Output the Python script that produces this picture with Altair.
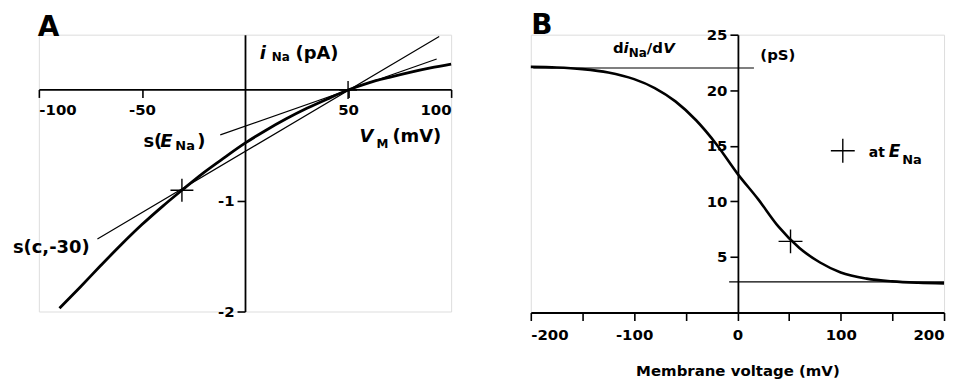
import altair as alt
import pandas as pd

FONT = "DejaVu Sans"

# ---------------- Panel A data ----------------
A_V = [-90, -80, -70, -60, -50, -40, -30, -20, -10, 0, 10, 20, 30, 40, 50, 60, 70, 80, 90, 100]
A_I = [-1.97, -1.78, -1.585, -1.395, -1.215, -1.05, -0.895, -0.745, -0.61, -0.48,
       -0.365, -0.26, -0.165, -0.08, 0.0, 0.065, 0.115, 0.16, 0.20, 0.235]
S_ENA_V = [-12, 93]
S_ENA_I = [-0.405, 0.28]
S_C30_V = [-71.6, 94.2]
S_C30_I = [-1.345, 0.484]
A_CROSS_V = [-30.6]
A_CROSS_I = [-0.905]
A_EREV_V = [50]
A_EREV_I = [0.0]
A_XTICKS = [-100, -50, 50, 100]
A_YTICKS = [-2, -1]

# ---------------- Panel B data ----------------
B_V = [-200, -175, -150, -125, -100, -80, -60, -40, -20, 0, 20, 40, 60, 80, 100, 125, 150, 175, 200]
B_G = [22.1, 22.05, 21.9, 21.6, 21.0, 20.2, 19.0, 17.3, 15.1, 12.5, 10.2, 7.7, 5.8, 4.5,
       3.6, 3.05, 2.8, 2.68, 2.62]
B_UP_V = [-197.6, 16]
B_UP_G = [22.0, 22.0]
B_LO_V = [-8, 200]
B_LO_G = [2.75, 2.75]
B_CROSS_V = [51.4]
B_CROSS_G = [6.4]
B_LEG_V = [102]
B_LEG_G = [14.56]
B_XTICKS = [-200, -150, -100, -50, 0, 50, 100, 150, 200]
B_YTICKS = [5, 10, 15, 20, 25]

CROSS = "M-1,0H1M0,-1V1"

# ---------------- helpers ----------------
def axis(values, offset, title=None, pad=3, **kw):
    return alt.Axis(values=values, offset=offset, title=title, grid=False,
                    labelExpr="'' + datum.value",
                    domainColor="black", domainWidth=1.8, tickColor="black",
                    tickWidth=1.6, tickSize=8, labelColor="black", labelFont=FONT,
                    labelFontSize=15, labelFontWeight="bold", labelPadding=pad,
                    titleFont=FONT, titleFontSize=15, titleFontWeight="bold",
                    titleColor="black", **kw)

XA = alt.X("v:Q", scale=alt.Scale(domain=[-100, 100], nice=False, zero=False),
           axis=axis(A_XTICKS, -223, pad=5))
YA = alt.Y("y:Q", scale=alt.Scale(domain=[-2, 0.5], nice=False, zero=False),
           axis=axis(A_YTICKS, -207))
XB = alt.X("v:Q", scale=alt.Scale(domain=[-200, 200], nice=False, zero=False),
           axis=axis(B_XTICKS, 0, title="Membrane voltage (mV)", pad=7, titlePadding=21))
YB = alt.Y("y:Q", scale=alt.Scale(domain=[0, 25], nice=False, zero=False),
           axis=axis(B_YTICKS, -208))


def line(vs, ys, X, Y, w):
    return alt.Chart(pd.DataFrame({"v": vs, "y": ys})).mark_line(
        color="black", strokeWidth=w, interpolate="monotone").encode(x=X, y=Y)


def cross(vs, ys, X, Y, size):
    return alt.Chart(pd.DataFrame({"v": vs, "y": ys})).mark_point(
        shape=CROSS, filled=False, size=size, color="black", strokeWidth=1.4,
        opacity=1).encode(x=X, y=Y)


def txt(v, y, t, X, Y, size, italic=False):
    kw = dict(align="left", baseline="alphabetic", font=FONT, fontSize=size,
              fontWeight="bold", color="black")
    if italic:
        kw["fontStyle"] = "italic"
    return alt.Chart(pd.DataFrame({"v": [v], "y": [y], "t": [t]})).mark_text(**kw).encode(
        x=X, y=Y, text="t:N")


# ---------------- Panel A ----------------
panel_a = alt.layer(
    line(A_V, A_I, XA, YA, 2.8),
    line(S_ENA_V, S_ENA_I, XA, YA, 1.2),
    line(S_C30_V, S_C30_I, XA, YA, 1.2),
    cross(A_CROSS_V, A_CROSS_I, XA, YA, 529),
    cross(A_EREV_V, A_EREV_I, XA, YA, 324),
    txt(-100.5, 0.487, "A", XA, YA, 28),
    txt(7.2, 0.281, "i", XA, YA, 18, True),
    txt(13.0, 0.258, "Na", XA, YA, 12),
    txt(24.5, 0.281, "(pA)", XA, YA, 18),
    txt(-49.3, -0.512, "s(", XA, YA, 18),
    txt(-41.1, -0.512, "E", XA, YA, 18, True),
    txt(-33.8, -0.542, "Na", XA, YA, 13),
    txt(-23.2, -0.512, ")", XA, YA, 18),
    txt(55.6, -0.467, "V", XA, YA, 18, True),
    txt(63.8, -0.522, "M", XA, YA, 12),
    txt(71.5, -0.467, "(mV)", XA, YA, 18),
    txt(-112.6, -1.471, "s(c,-30)", XA, YA, 18),
).properties(width=414, height=278)

# ---------------- Panel B ----------------
panel_b = alt.layer(
    line(B_V, B_G, XB, YB, 2.6),
    line(B_UP_V, B_UP_G, XB, YB, 1.2),
    line(B_LO_V, B_LO_G, XB, YB, 1.2),
    cross(B_CROSS_V, B_CROSS_G, XB, YB, 576),
    cross(B_LEG_V, B_LEG_G, XB, YB, 576),
    txt(-199.5, 25.04, "B", XB, YB, 28),
    txt(-120.5, 23.32, "d", XB, YB, 15),
    txt(-110.2, 23.32, "i", XB, YB, 15, True),
    txt(-105.1, 23.01, "Na", XB, YB, 12),
    txt(-87.7, 23.32, "/d", XB, YB, 15),
    txt(-71.8, 23.32, "V", XB, YB, 15, True),
    txt(22.2, 22.72, "(pS)", XB, YB, 15),
    txt(127.2, 14.0, "at", XB, YB, 14),
    txt(146.5, 14.0, "E", XB, YB, 17, True),
    txt(159.5, 13.4, "Na", XB, YB, 13),
).properties(width=415, height=279)

chart = alt.hconcat(panel_a, panel_b, spacing=80, bounds="flush").properties(
    padding={"left": 4, "top": 3, "right": 5, "bottom": 5}
).configure_view(strokeWidth=0).configure(background="white")

chart.save("out.html", embed_options={"renderer": "svg", "actions": False})
